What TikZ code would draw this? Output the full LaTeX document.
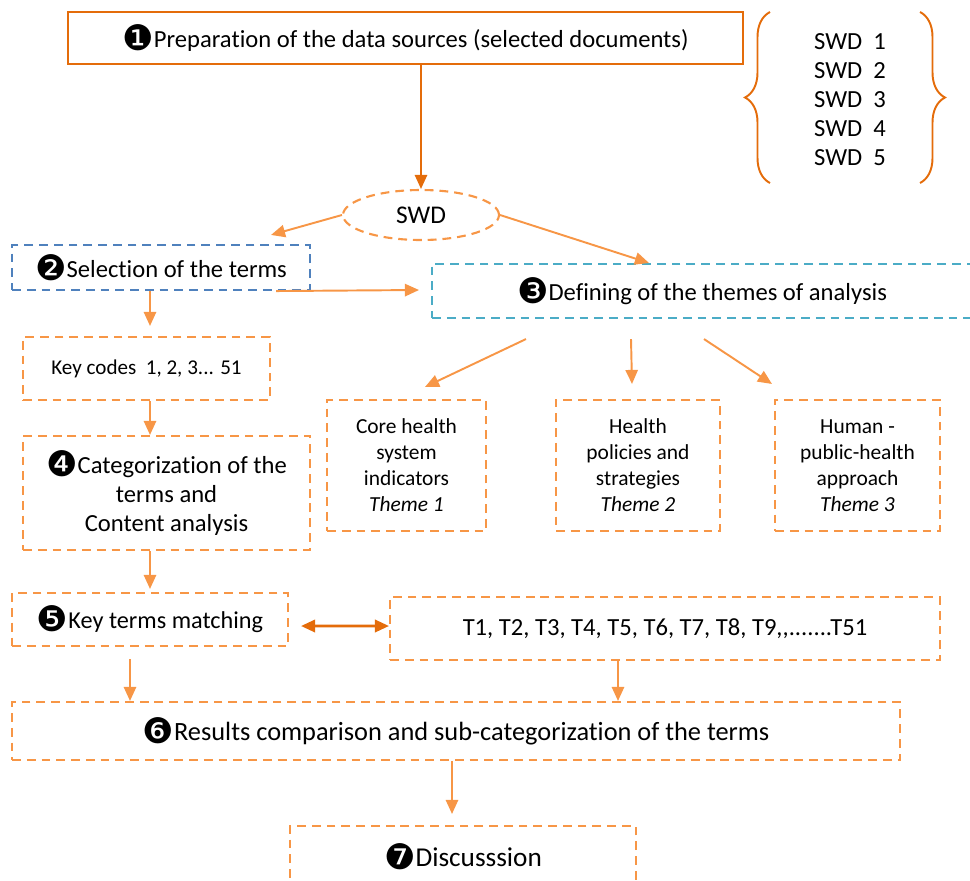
\documentclass[tikz,border=0pt]{standalone}
\usepackage{fontspec}
\setmainfont{Carlito}[Ligatures=NoCommon]
\newfontfamily\dingfont{DejaVu Sans}
\usepackage{tikz}
\usetikzlibrary{arrows.meta, calc, shapes.geometric, decorations.pathreplacing}
\definecolor{darkorange}{HTML}{E46C0A}
\definecolor{lightorange}{HTML}{F79646}
\definecolor{boxblue}{HTML}{4F81BD}
\definecolor{boxcyan}{HTML}{4BACC6}
\newcommand{\stepno}[1]{\raisebox{-1.8pt}{\dingfont\fontsize{20}{20}\selectfont #1}}

\begin{document}
\begin{tikzpicture}[>=Triangle, x=0.02cm, y=-0.02cm,
    dashbox/.style={draw=lightorange, line width=1.2pt, dash pattern=on 5pt off 3.4pt, align=center, inner sep=2pt},
    arr/.style={draw=lightorange, line width=1.1pt, -{Triangle[length=8pt, width=7pt]}},
    darr/.style={draw=darkorange, line width=1.1pt, -{Triangle[length=8pt, width=7pt]}}]
    \useasboundingbox (0,0) rectangle (970,880);

    % Top box and sources
    \node[draw=darkorange, line width=1.2pt, minimum width=13.5cm, minimum height=1.04cm, font=\fontsize{14}{16}\selectfont] (prep) at (405.5,38) {\stepno{❶}Preparation of the data sources (selected documents)};
    \node[align=left, font=\fontsize{14}{16.5}\selectfont] (swdlist) at (850,100) {SWD~~1\\SWD~~2\\SWD~~3\\SWD~~4\\SWD~~5};
    \draw[decorate, decoration={brace, amplitude=0.5cm}, draw=darkorange, line width=1.1pt] (770,183) -- (770,12);
    \draw[decorate, decoration={brace, amplitude=0.5cm}, draw=darkorange, line width=1.1pt] (920,12) -- (920,183);

    % SWD
    \node[ellipse, draw=lightorange, line width=1.2pt, dash pattern=on 5pt off 3.4pt, minimum width=3.12cm, minimum height=1cm, font=\fontsize{14.5}{16}\selectfont] (swd) at (421,215) {SWD};
    \draw[darr] (prep.south -| swd.north) -- (swd.north);

    % Terms and themes
    \node[dashbox, draw=boxblue, minimum width=5.96cm, minimum height=0.9cm, font=\fontsize{14}{16}\selectfont] (sel) at (161,267.5) {\stepno{❷}Selection of the terms};
    \node[dashbox, draw=boxcyan, minimum width=10.8cm, minimum height=1.08cm, font=\fontsize{14}{16}\selectfont] (def) at (702,291) {\stepno{❸}Defining of the themes of analysis};
    \draw[arr] (swd.west) -- ($(sel.north east)+(-40,-9)$);
    \draw[arr] (swd.east) -- ($(def.north west)+(218,0)$);
    \draw[arr] ($(sel.south east)+(-35,0)$) -- ($(def.west)+(-12,-1)$);

    \node[dashbox, minimum width=4.94cm, minimum height=1.26cm, font=\fontsize{12}{14}\selectfont] (key) at (146.5,368.5) {Key codes~~1, 2, 3... 51};
    \node[dashbox, minimum width=5.74cm, minimum height=2.28cm, font=\fontsize{14}{16.5}\selectfont] (cat) at (166.5,493) {\stepno{❹}Categorization of the\\terms and\\Content analysis};
    \draw[arr] ($(sel.south)+(-11,0)$) -- ($(key.north)+(3.5,-10)$);
    \draw[arr] ($(key.south)+(3.5,0)$) -- ($(cat.north)+(-16.5,0)$);

    \node[dashbox, minimum width=3.18cm, minimum height=2.62cm, font=\fontsize{12.2}{14.8}\selectfont] (th1) at (406.5,465.5) {Core health\\system\\indicators\\\textit{Theme 1}};
    \node[dashbox, minimum width=3.28cm, minimum height=2.62cm, font=\fontsize{12.2}{14.8}\selectfont] (th2) at (638,465.5) {Health\\policies and\\strategies\\\textit{Theme 2}};
    \node[dashbox, minimum width=3.3cm, minimum height=2.62cm, font=\fontsize{12.2}{14.8}\selectfont] (th3) at (857.5,465.5) {Human -\\public-health\\approach\\\textit{Theme 3}};
    \draw[arr] ($(def.south west)+(95,20)$) -- ($(th1.north)+(18.5,-12)$);
    \draw[arr] ($(def.south west)+(200,20)$) -- ($(th2.north)+(-6,-15)$);
    \draw[arr] ($(def.south west)+(273,20)$) -- ($(th3.north west)+(-2,-15)$);

    % Matching
    \node[dashbox, minimum width=5.52cm, minimum height=1.06cm, font=\fontsize{13.8}{16}\selectfont] (match) at (150,619.5) {\stepno{❺}Key terms matching};
    \node[dashbox, minimum width=11cm, minimum height=1.26cm, font=\fontsize{14}{16}\selectfont] (tlist) at (665,628.5) {T1, T2, T3, T4, T5, T6, T7, T8, T9,{},.......T51};
    \draw[arr] ($(cat.south)+(-16.5,0)$) -- ($(match.north)+(0,-3)$);
    \draw[darkorange, line width=1.5pt, {Triangle[length=8pt, width=7pt]}-{Triangle[length=8pt, width=7pt]}] ($(match.east)+(12,6.5)$) -- ($(tlist.west)+(0,-2.5)$);

    % Results and discussion
    \node[dashbox, minimum width=17.76cm, minimum height=1.16cm, font=\fontsize{15}{17}\selectfont] (res) at (456,731) {\stepno{❻}Results comparison and sub-categorization of the terms};
    \node[dashbox, minimum width=6.92cm, minimum height=1.24cm, font=\fontsize{15.5}{17}\selectfont] (disc) at (463,857) {\stepno{❼}Discusssion};
    \draw[arr] ($(match.south)+(-20,12)$) -- ($(match.south |- res.north)+(-20,0)$);
    \draw[arr] ($(tlist.south)+(-47,0)$) -- ($(tlist.south |- res.north)+(-47,0)$);
    \draw[arr] ($(res.south)+(-4,0)$) -- ($(disc.north)+(-11,-11)$);
\end{tikzpicture}
\end{document}
